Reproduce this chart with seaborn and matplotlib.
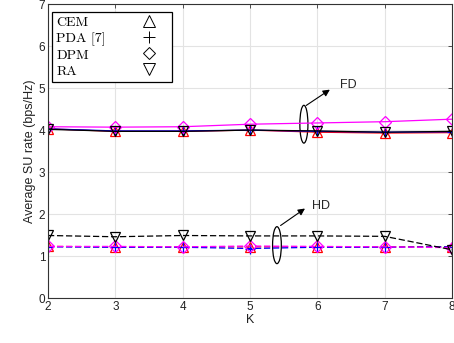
import matplotlib
matplotlib.use("Agg")
import matplotlib.pyplot as plt
import seaborn as sns
import numpy as np
import pandas as pd
from matplotlib.lines import Line2D
from matplotlib.patches import Ellipse

K = [2, 3, 4, 5, 6, 7, 8]
fd_cem = [4.03, 3.97, 3.97, 4.00, 3.95, 3.93, 3.94]
fd_pda = [4.03, 3.98, 3.98, 4.00, 3.97, 3.95, 3.96]
fd_dpm = [4.08, 4.07, 4.08, 4.14, 4.17, 4.20, 4.26]
fd_ra = [4.02, 3.97, 3.97, 4.00, 3.98, 3.95, 3.97]
hd_cem = [1.23, 1.22, 1.22, 1.22, 1.22, 1.22, 1.22]
hd_pda = [1.22, 1.21, 1.21, 1.18, 1.21, 1.21, 1.22]
hd_dpm = [1.23, 1.23, 1.22, 1.24, 1.23, 1.22, 1.20]
hd_ra = [1.49, 1.46, 1.49, 1.48, 1.48, 1.47, 1.15]
legend_labels = ["CEM", "PDA [7]", "DPM", "RA"]

sns.set_style("whitegrid")
plt.rcParams['font.family'] = ['Liberation Sans', 'DejaVu Sans']

fig = plt.figure(figsize=(4.54, 3.43), dpi=100)
ax = fig.add_axes([0.1057, 0.131, 0.89, 0.857])

dashed = (0, (5, 2.2))
styles = [
    (fd_cem, 'red', '^', '-'), (fd_pda, 'blue', '+', '-'),
    (fd_dpm, 'magenta', 'D', '-'), (fd_ra, 'black', 'v', '-'),
    (hd_cem, 'red', '^', dashed), (hd_pda, 'blue', '+', dashed),
    (hd_dpm, 'magenta', 'D', dashed), (hd_ra, 'black', 'v', dashed),
]
for vals, col, mk, ls in styles:
    ms = 6 if mk == 'D' else 7.5
    sns.lineplot(x=K, y=vals, ax=ax, color=col, linestyle=ls, linewidth=0.9,
                 marker=mk, markersize=ms, markerfacecolor='none',
                 markeredgecolor=col, markeredgewidth=0.9)

ax.set_xlim(2, 8)
ax.set_ylim(0, 7)
ax.set_xticks(K)
ax.set_yticks(range(0, 8))
ax.grid(True, color='#e3e3e3', linewidth=0.8)
for s in ax.spines.values():
    s.set_visible(True)
    s.set_color('#333333')
    s.set_linewidth(0.8)
ax.tick_params(direction='in', length=3, width=0.6, colors='#333333',
               labelsize=8.5, top=True, right=True, pad=2)
ax.tick_params(axis='x', labelcolor='#222222')
ax.tick_params(axis='y', labelcolor='#222222')
ax.set_xlabel('K', fontsize=9, color='#222222', labelpad=1)
ax.set_ylabel('Average SU rate (bps/Hz)', fontsize=9, color='#222222', labelpad=2)

# legend: text box with frame, markers in a second frameless legend
lfs = 10
bp = 0.3
ls_ = 0.235
empty = [Line2D([], [], linestyle='none') for _ in legend_labels]
leg1 = ax.legend(empty, legend_labels, loc='upper left',
                 bbox_to_anchor=(0.0099, 0.735, 0.297, 0.238), mode='expand',
                 frameon=True, fancybox=False, prop={'family': 'cmr10', 'size': lfs},
                 borderpad=bp, labelspacing=ls_, handletextpad=0.0, handlelength=0.0,
                 borderaxespad=0.0)
leg1.get_frame().set_edgecolor('black')
leg1.get_frame().set_linewidth(0.9)
leg1.get_frame().set_facecolor('white')
leg1.get_frame().set_alpha(1)
for t in leg1.get_texts():
    t.set_color('black')
ax.add_artist(leg1)

handles = [Line2D([], [], linestyle='none', marker=m, markersize=s,
                  markerfacecolor='none', markeredgecolor='black', markeredgewidth=0.7)
           for m, s in zip(['^', '+', 'D', 'v'], [8.5, 8.5, 6, 8.5])]
leg2 = ax.legend(handles, [' '] * 4, loc='upper left',
                 bbox_to_anchor=(0.223, 0.973), frameon=False,
                 prop={'family': 'cmr10', 'size': lfs},
                 borderpad=bp, labelspacing=ls_, handletextpad=0.0, handlelength=1.0,
                 borderaxespad=0.0)

# annotations
ax.add_patch(Ellipse((5.80, 4.14), 0.12, 0.9, fill=False, edgecolor='black', linewidth=0.9))
ax.annotate('', xy=(6.22, 5.0), xytext=(5.80, 4.55),
            arrowprops=dict(arrowstyle='-|>', color='black', lw=0.8, mutation_scale=10))
ax.text(6.34, 5.07, 'FD', fontsize=9, va='center', ha='left')
ax.add_patch(Ellipse((5.40, 1.26), 0.13, 0.88, fill=False, edgecolor='black', linewidth=0.9))
ax.annotate('', xy=(5.85, 2.17), xytext=(5.42, 1.69),
            arrowprops=dict(arrowstyle='-|>', color='black', lw=0.8, mutation_scale=10))
ax.text(5.92, 2.2, 'HD', fontsize=9, va='center', ha='left')

fig.savefig('out.png', dpi=100)
